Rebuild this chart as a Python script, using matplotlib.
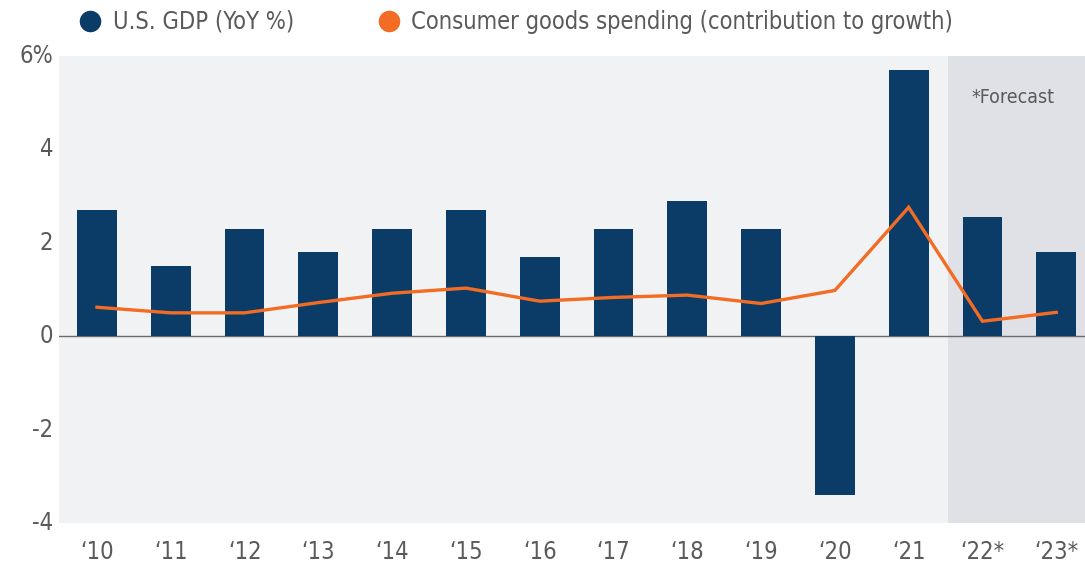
import numpy as np
import matplotlib.pyplot as plt
from matplotlib.lines import Line2D

# ============= Data =============
years = ['\u201810', '\u201811', '\u201812', '\u201813', '\u201814', '\u201815', '\u201816',
         '\u201817', '\u201818', '\u201819', '\u201820', '\u201821', '\u201822*', '\u201823*']
gdp = [2.7, 1.5, 2.3, 1.8, 2.3, 2.7, 1.7, 2.3, 2.9, 2.3, -3.4, 5.7, 2.55, 1.8]
goods = [0.62, 0.5, 0.5, 0.72, 0.92, 1.03, 0.75, 0.83, 0.88, 0.7, 0.98, 2.76, 0.32, 0.51]
yticks = [-4, -2, 0, 2, 4, 6]
ytick_labels = ['-4', '-2', '0', '2', '4', '6%']
forecast_start = 12  # index of first forecast year

# ============= Style =============
navy = '#0b3c68'
orange = '#f26c23'
text_grey = '#5a5a5a'
plt.rcParams['font.family'] = ['DejaVu Sans']
plt.rcParams['font.stretch'] = 'condensed'

fig = plt.figure(figsize=(10.85, 5.65), dpi=100)
W, H = 1085, 565
ax = fig.add_axes([59 / W, (H - 523) / H, (1085 - 59) / W, (523 - 56) / H])

x = np.arange(len(years))
ax.set_facecolor('#f1f2f4')
ax.axvspan(forecast_start - 0.47, len(years), color='#e0e1e6', zorder=0, lw=0)

ax.bar(x, gdp, width=0.54, color=navy, zorder=2)
ax.plot(x, goods, color=orange, lw=2.4, zorder=3, solid_joinstyle='miter')
ax.axhline(0, color='#6b6b6b', lw=1, zorder=1)

ax.set_xlim(-0.515, len(years) - 0.61)
ax.set_ylim(-4, 6)
ax.set_yticks(yticks)
ax.set_yticklabels(ytick_labels)
ax.set_xticks(x)
ax.set_xticklabels(years)
ax.tick_params(length=0, labelsize=17, colors=text_grey)
ax.tick_params(axis='x', pad=12)
ax.tick_params(axis='y', pad=4)
for lab in ax.get_yticklabels():
    lab.set_verticalalignment('center')
for s in ax.spines.values():
    s.set_visible(False)

ax.text(forecast_start + 0.41, 5.12, '*Forecast', fontsize=14, color=text_grey, ha='center', va='center')

# legend along the top
handles = [Line2D([], [], marker='o', ls='', ms=14.5, color=navy),
           Line2D([], [], marker='o', ls='', ms=14.5, color=orange)]
fig.legend(handles, ['U.S. GDP (YoY %)', 'Consumer goods spending (contribution to growth)'],
           loc='center left', bbox_to_anchor=(55 / W, 1 - 22 / H), ncol=2, frameon=False,
           fontsize=17, labelcolor=text_grey, handletextpad=0.35, columnspacing=3.4,
           handlelength=1.2)

fig.savefig('out.png', dpi=100)
